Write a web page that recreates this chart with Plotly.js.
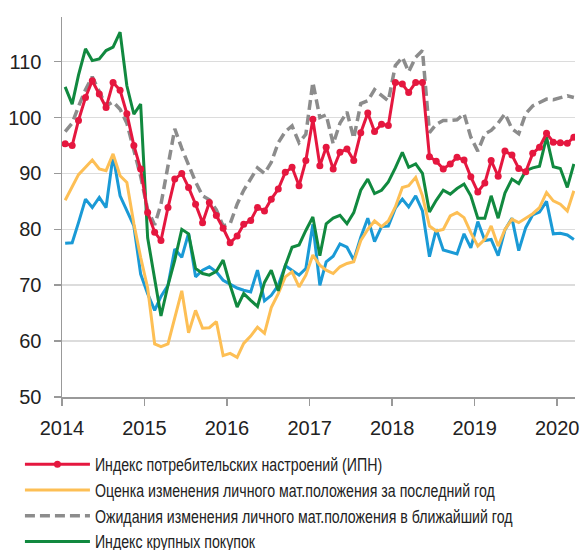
<!DOCTYPE html>
<html>
<head>
<meta charset="utf-8">
<script src="https://cdn.plot.ly/plotly-3.0.1.min.js"></script>
<style>html,body{margin:0;padding:0;background:#fff;}#chart{width:582px;height:550px;}</style>
</head>
<body>
<div id="chart"></div>
<script>
// Monthly observations, Jan 2014 - Mar 2020
var startYear = 2014, startMonth = 1, nMonths = 75;

var seriesNames = [
  "Индекс потребительских настроений (ИПН)",
  "Оценка изменения личного мат.положения за последний год",
  "Ожидания изменения личного мат.положения в ближайший год",
  "Индекс крупных покупок",
  "Индекс текущего состояния"
];

var ipn = [95.3,95,99.5,103.6,106.6,104.2,101.8,106.3,104.9,100.7,
  95,90.8,83,79.5,78,83.9,89,90,87.5,84.5,
  81.2,84.8,82.5,80.2,77.6,78.8,80.9,81.6,83.9,83.3,
  85.4,87.2,90.2,91.1,87.8,92.3,99.7,91.4,94.7,90.8,
  93.8,94.4,92.3,97.3,100.8,97.5,98.8,98.6,106.3,106,
  104.5,106.3,106.3,93,92.2,90.8,91.7,92.9,92.4,89.4,
  86.7,88.3,92.3,89.5,94,93.3,90.9,90.3,93.6,94.7,
  97.2,95.6,95.5,95.4,96.5];

var pastYear = [85.2,87.5,89.8,91.1,92.4,90.8,90.5,93.5,89.6,88.4,
  81,75,69.5,59.5,59,59.5,64,69,61.5,65.5,
  62.3,62.4,63.5,57.4,57.8,57.1,59.6,60.9,62.5,61.4,
  66,68.5,71.5,72.4,69.7,71.8,75.4,73.6,72.7,72.1,
  73.3,73.9,74.2,78,80,81.5,80.5,81.5,84,87.5,
  87.8,89.3,86,80.6,79.7,80,82.4,83,82.1,79.4,
  77,78.2,80.6,77,80,81.8,81.2,82,82.8,83.9,
  86.6,85.1,84.5,83.3,86.9];

var nextYear = [97.5,99,102,105,107.3,104.5,102.1,102.8,101.5,99,
  94,89.5,83.5,80.8,84.5,91.5,98,94.5,91.5,88.5,
  86,85.3,83.5,80.6,81,84.5,87,89,91,90,
  92,95.5,97.5,98.5,95.5,97,106.3,100,100.5,95.3,
  99,101,96.3,102.5,103,105,104,103,109.3,110.8,
  108.2,110.8,112,97.3,98.8,99.5,99.5,99.6,100.7,96.5,
  94,97.1,97.7,99,100.7,98,97.1,100.7,102.1,102.7,
  103.3,103.2,103.5,103.9,103.6];

var bigPurchases = [105.5,102.4,107.6,112.3,110.2,110.5,112,112.6,115.3,105.7,
  100.6,102.4,78.5,71.5,64.5,70,74.5,80,79.2,73,
  72.1,71.8,72.5,74.5,70,66.1,68.5,67.3,66.2,70.5,
  72.7,69,73.5,76.8,77.2,79.8,82.2,75.3,81,82,
  82.5,81,83,87,89,86.4,87,88.5,91,93.8,
  91.1,91.7,90,83.1,85.2,87,86.3,87.3,88.1,86,
  82,82,86,82,86.5,89,88.2,90.5,91,91.3,
  96.5,91.2,90.9,87.5,91.7];

var currentState = [77.5,77.6,81.2,85.4,83.9,85.7,83.9,93.2,86,83.3,
  80.6,72,68.5,65.5,68,70,76.5,75,79.3,71.5,
  72.7,73.3,72.4,70.9,70.2,69.5,69.1,68.8,72.7,67.2,
  68.2,70,73.5,72.6,71.8,73,80.9,70,74.2,75.2,
  77.4,76.8,74.5,78.6,82,77.8,80.5,80.6,83.8,85.4,
  84,86,83.3,75.1,80,76.3,76,75.6,79.2,76.7,
  81.4,78,78.2,75.3,79.9,82,76.2,80.3,82.6,83.1,
  85,79.2,79.3,79,78.2];

var yearTicks = ["2014","2015","2016","2017","2018","2019","2020"];

function pad(n){return (n<10?"0":"")+n;}
var months = [];
for (var i = 0; i < nMonths; i++) {
  var m = startMonth - 1 + i;
  months.push((startYear + Math.floor(m/12)) + "-" + pad(m%12 + 1) + "-15");
}

var traces = [
  {x: months, y: currentState, name: seriesNames[4], type: "scatter", mode: "lines",
   line: {color: "#1a9ad6", width: 3}, showlegend: false},
  {x: months, y: pastYear, name: seriesNames[1], type: "scatter", mode: "lines",
   line: {color: "#fdbf55", width: 3}, legendrank: 2},
  {x: months, y: bigPurchases, name: seriesNames[3], type: "scatter", mode: "lines",
   line: {color: "#11893f", width: 3}, legendrank: 4},
  {x: months, y: nextYear, name: seriesNames[2], type: "scatter", mode: "lines",
   line: {color: "#8c8c8c", width: 3.5, dash: "10px,5px"}, legendrank: 3},
  {x: months, y: ipn, name: seriesNames[0], type: "scatter", mode: "lines+markers",
   line: {color: "#e5173f", width: 3}, marker: {color: "#e5173f", size: 7}, legendrank: 1}
];

var layout = {
  width: 582, height: 550,
  margin: {l: 62, r: 7, t: 17, b: 153, autoexpand: false},
  paper_bgcolor: "#fff", plot_bgcolor: "#fff",
  font: {family: "Liberation Sans, Arial, sans-serif", color: "#222"},
  showlegend: true,
  legend: {
    orientation: "v", x: -0.082, xanchor: "left", y: -0.13, yanchor: "top",
    font: {family: "Liberation Sans, Arial, sans-serif", size: 17.5, color: "#222"},
    traceorder: "normal", itemwidth: 65, bgcolor: "rgba(0,0,0,0)"
  },
  xaxis: {
    type: "date",
    range: ["2014-01-01", "2020-03-20"],
    tickmode: "array",
    tickvals: yearTicks.map(function(y){return y + "-01-01";}),
    ticktext: yearTicks,
    showgrid: false,
    showline: true, linecolor: "#999", linewidth: 1.5,
    ticks: "outside", ticklen: 7, tickcolor: "#999", tickwidth: 1.5,
    ticklabelstandoff: 5,
    tickfont: {size: 20, color: "#222"},
    zeroline: false, automargin: false
  },
  yaxis: {
    range: [50, 118],
    tickvals: [50,60,70,80,90,100,110],
    showgrid: true, gridcolor: "#dcdcdc", gridwidth: 1.5,
    showline: true, linecolor: "#999", linewidth: 1.5,
    ticks: "outside", ticklen: 7, tickcolor: "#999", tickwidth: 1.5,
    ticklabelstandoff: 8,
    tickfont: {size: 20, color: "#222"},
    zeroline: false, automargin: false
  }
};

Plotly.newPlot("chart", traces, layout, {displayModeBar: false, staticPlot: true}).then(function(gd){
  // the reference legend uses a narrow typeface: condense the legend labels horizontally
  var texts = gd.querySelectorAll(".legend .legendtext");
  texts.forEach(function(t){
    var w = t.getComputedTextLength();
    t.setAttribute("textLength", (w * 0.81).toFixed(1));
    t.setAttribute("lengthAdjust", "spacingAndGlyphs");
  });
});
</script>
</body>
</html>
